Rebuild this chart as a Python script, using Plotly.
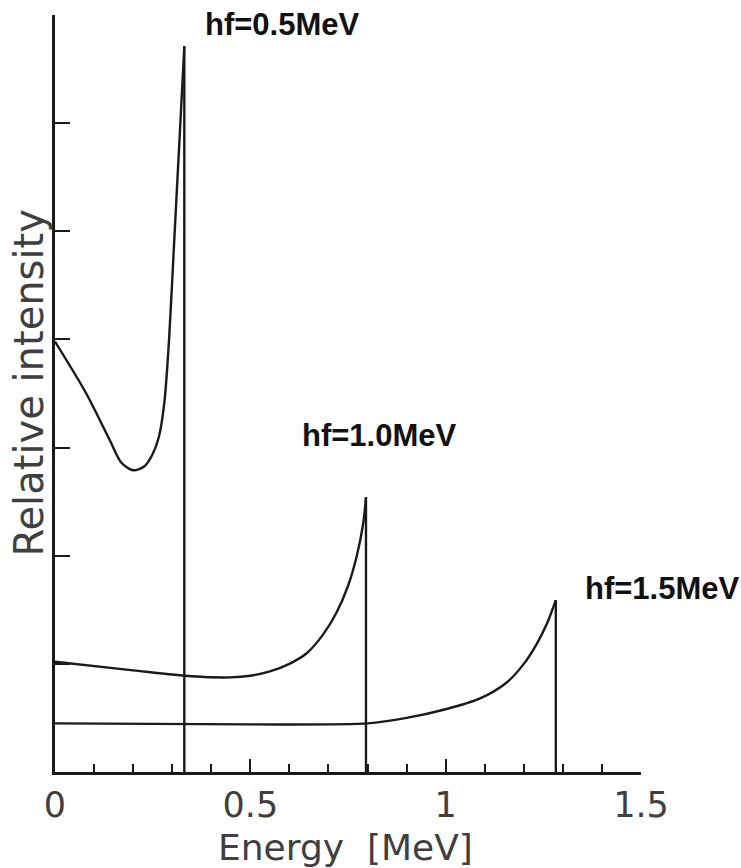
import plotly.graph_objects as go

# Compton continua for three photon energies (energy in MeV, intensity in axis units)
energy_05 = [0.0, 0.08, 0.14, 0.17, 0.2, 0.23, 0.25, 0.266, 0.28, 0.292, 0.305, 0.318, 0.331]
inten_05 = [3.98, 3.5, 3.07, 2.86, 2.79, 2.83, 2.94, 3.1, 3.42, 4.0, 4.9, 5.8, 6.71]

energy_10 = [0.0, 0.2, 0.35, 0.45, 0.5, 0.55, 0.6, 0.645, 0.686, 0.72, 0.75, 0.772, 0.789, 0.796]
inten_10 = [1.02, 0.94, 0.885, 0.875, 0.89, 0.93, 1.0, 1.1, 1.27, 1.47, 1.72, 1.99, 2.30, 2.54]

energy_15 = [0.0, 0.5, 0.8, 0.9, 1.0, 1.088, 1.157, 1.2, 1.234, 1.259, 1.282]
inten_15 = [0.45, 0.44, 0.45, 0.5, 0.58, 0.68, 0.83, 1.0, 1.19, 1.37, 1.59]

labels = ["hf=0.5MeV", "hf=1.0MeV", "hf=1.5MeV"]
label_x = [0.389, 0.554, 1.036]     # paper fraction
label_y = [0.988, 0.445, 0.242]     # paper fraction

x_tickvals = [0, 0.5, 1, 1.5]
x_ticktext = ["0", "0.5", "1", "1.5"]
x_minor = [round(0.1 * i, 1) for i in range(16)]

ink = "#1a1a1a"
grey_text = "#3f3f3f"

fig = go.Figure()
for xs, ys in [(energy_05, inten_05), (energy_10, inten_10), (energy_15, inten_15)]:
    # continuum
    fig.add_trace(go.Scatter(x=xs, y=ys, mode="lines",
                             line=dict(color=ink, width=2.4, shape="spline", smoothing=0.8),
                             hoverinfo="skip"))
    # Compton edge drop to the baseline
    fig.add_trace(go.Scatter(x=[xs[-1], xs[-1]], y=[ys[-1], 0], mode="lines",
                             line=dict(color=ink, width=2.4), hoverinfo="skip"))

for txt, lx, ly in zip(labels, label_x, label_y):
    fig.add_annotation(x=lx, y=ly, xref="paper", yref="paper", text="<b>" + txt + "</b>",
                       showarrow=False, xanchor="center", yanchor="middle",
                       font=dict(family="Liberation Sans, Arial", size=31, color="#111111"))

fig.add_annotation(x=0.495, y=-0.100, xref="paper", yref="paper",
                   text="Energy\u00a0\u00a0[MeV]", showarrow=False,
                   xanchor="center", yanchor="middle",
                   font=dict(family="DejaVu Sans", size=36, color=grey_text))
fig.add_annotation(x=-0.045, y=0.514, xref="paper", yref="paper",
                   text="Relative intensity", showarrow=False, textangle=-90,
                   xanchor="center", yanchor="middle",
                   font=dict(family="DejaVu Sans", size=40, color=grey_text))

fig.update_layout(
    width=741, height=868,
    margin=dict(l=55, r=100, t=15, b=96),
    plot_bgcolor="white", paper_bgcolor="white",
    showlegend=False,
    xaxis=dict(range=[0, 1.5], showline=True, linecolor=ink, linewidth=3,
               ticks="inside", ticklen=13, tickwidth=2, tickcolor=ink,
               tickvals=x_tickvals, ticktext=x_ticktext,
               tickfont=dict(family="DejaVu Sans", size=35, color=grey_text),
               showgrid=False, zeroline=False,
               minor=dict(tickvals=x_minor, ticks="inside", ticklen=8,
                          tickwidth=2, tickcolor=ink, showgrid=False)),
    yaxis=dict(range=[0, 7], showline=True, linecolor=ink, linewidth=3,
               ticks="inside", ticklen=15, tickwidth=2, tickcolor=ink,
               dtick=1, tick0=0, showticklabels=False,
               showgrid=False, zeroline=False),
)

fig.write_html("out.html")
